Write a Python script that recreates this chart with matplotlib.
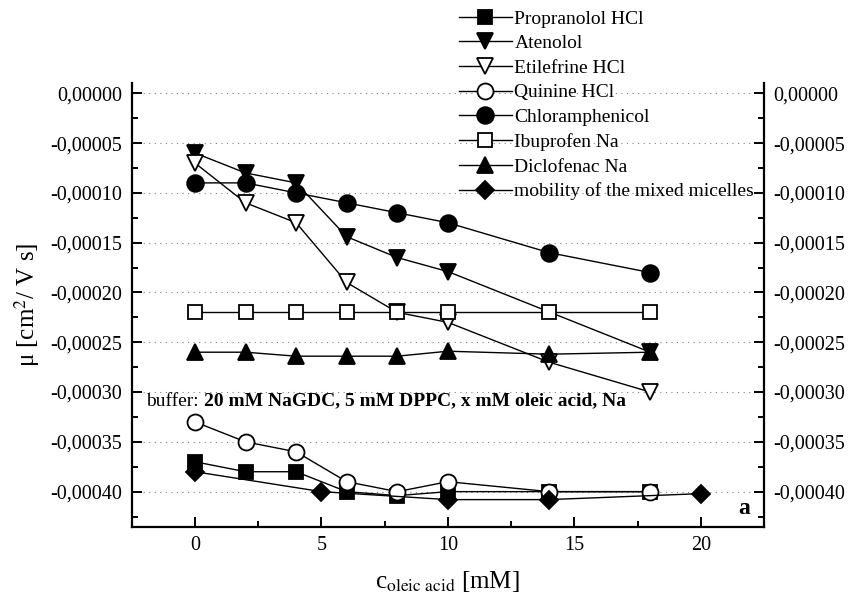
import matplotlib
matplotlib.use("Agg")
import matplotlib.pyplot as plt
from matplotlib.ticker import MultipleLocator, FuncFormatter

plt.rcParams['font.family'] = ['Liberation Serif', 'DejaVu Serif']
plt.rcParams['mathtext.fontset'] = 'stix'

# oleic acid concentration [mM]
c_drugs = [0, 2, 4, 6, 8, 10, 14, 18]
c_micelles = [0, 5, 10, 14, 20]

propranolol = [-0.00037, -0.00038, -0.00038, -0.00040, -0.000404, -0.00040, -0.00040, -0.00040]
atenolol_x = [0, 2, 4, 6, 8, 10, 18]
atenolol = [-0.00006, -0.00008, -0.00009, -0.000144, -0.000165, -0.000179, -0.00026]
etilefrine = [-0.00007, -0.00011, -0.00013, -0.00019, -0.00022, -0.00023, -0.00027, -0.00030]
quinine = [-0.00033, -0.00035, -0.00036, -0.00039, -0.00040, -0.00039, -0.00040, -0.00040]
chloramphenicol = [-0.00009, -0.00009, -0.00010, -0.00011, -0.00012, -0.00013, -0.00016, -0.00018]
ibuprofen = [-0.00022, -0.00022, -0.00022, -0.00022, -0.00022, -0.00022, -0.00022, -0.00022]
diclofenac = [-0.00026, -0.00026, -0.000264, -0.000264, -0.000264, -0.000259, -0.000262, -0.00026]
micelles = [-0.00038, -0.00040, -0.000408, -0.000408, -0.000402]

fig = plt.figure(figsize=(8.48, 5.94), dpi=100)
ax = fig.add_axes([131.7 / 848, 1 - 526.5 / 594, (764 - 131.7) / 848, (526.5 - 83.3) / 594])

kw = dict(color="black", lw=1.0, mec="black", mew=1.3)
ax.plot(c_drugs, propranolol, marker="s", ms=10.5, mfc="black", label="Propranolol HCl", **kw)
ax.plot(atenolol_x, atenolol, marker="v", ms=12, mfc="black", label="Atenolol", **kw)
ax.plot(c_drugs, etilefrine, marker="v", ms=12, mfc="white", label="Etilefrine HCl", **kw)
ax.plot(c_drugs, quinine, marker="o", ms=11.5, mfc="white", label="Quinine HCl", **kw)
ax.plot(c_drugs, chloramphenicol, marker="o", ms=12, mfc="black", label="Chloramphenicol", **kw)
ax.plot(c_drugs, ibuprofen, marker="s", ms=10.5, mfc="white", label="Ibuprofen Na", **kw)
ax.plot(c_drugs, diclofenac, marker="^", ms=12, mfc="black", label="Diclofenac Na", **kw)
ax.plot(c_micelles, micelles, marker="D", ms=9, mfc="black", label="mobility of the mixed micelles", **kw)

ax.set_xlim(-2.5, 22.5)
ax.set_ylim(-0.000435, 0.00001)

ax.xaxis.set_major_locator(MultipleLocator(5))
ax.xaxis.set_minor_locator(MultipleLocator(2.5))
ax.yaxis.set_major_locator(MultipleLocator(0.00005))
ax.yaxis.set_minor_locator(MultipleLocator(0.000025))


def fmt(v, pos):
    s = f"{v:.5f}".replace(".", ",")
    if s == "-0,00000":
        s = "0,00000"
    return s


ax.yaxis.set_major_formatter(FuncFormatter(fmt))
ax.tick_params(which="both", direction="in", right=True, labelright=True, width=1.4, labelsize=14.5)
ax.tick_params(which="major", length=7, pad=7)
ax.tick_params(which="minor", length=4)

ax.spines["top"].set_visible(False)
for s in ["left", "right", "bottom"]:
    ax.spines[s].set_linewidth(1.6)

ax.grid(axis="y", which="major", linestyle=(0, (1, 4)), color="gray", lw=0.8)
ax.set_axisbelow(True)

ax.set_ylabel("μ [cm$^2$/ V s]", fontsize=18, labelpad=6)
ax.set_xlabel(r"c$_{\rm oleic\ acid}$ [mM]", fontsize=18, labelpad=10)

t1 = ax.text(-1.94, -0.000309, "buffer:", fontsize=14, va="center", ha="left")
ax.annotate("20 mM NaGDC, 5 mM DPPC, x mM oleic acid, Na", xy=(1, 0.5), xycoords=t1,
            xytext=(4, 0), textcoords="offset points", fontsize=14, fontweight="bold",
            va="center", ha="left")
ax.text(21.7, -0.0004165, "a", fontsize=17, fontweight="bold", ha="center", va="center")

fig.legend(loc="upper left", bbox_to_anchor=(459 / 848, 1 - 10 / 594), frameon=False,
           fontsize=14, handlelength=2.7, handletextpad=0.15, labelspacing=0.36,
           borderpad=0, borderaxespad=0)

fig.savefig("out.png", dpi=100)
